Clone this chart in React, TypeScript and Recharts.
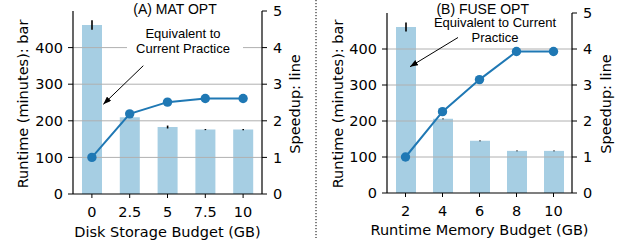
import {
  ComposedChart,
  Bar,
  Line,
  XAxis,
  YAxis,
  ErrorBar,
  ReferenceLine,
} from "recharts";

const diskBudgets = ["0", "2.5", "5", "7.5", "10"];
const matRuntime = [462, 210, 183, 176, 176];
const matRuntimeErr = [13, 1, 4, 1.5, 1.5];
const matSpeedup = [1, 2.19, 2.51, 2.61, 2.61];

const memBudgets = ["2", "4", "6", "8", "10"];
const fuseRuntime = [461, 206, 145, 117, 117];
const fuseRuntimeErr = [12.5, 1.2, 1, 0.8, 0.8];
const fuseSpeedup = [1, 2.26, 3.15, 3.93, 3.93];

const runtimeTicks = [0, 100, 200, 300, 400];
const speedupTicks = [0, 1, 2, 3, 4, 5];
const gridTicks = [1, 2, 3, 4];

const BAR = "#a6cee3";
const LINE = "#1f78b4";
const GRID = "#b0b0b0";
const FONT = "DejaVu Sans";
const FS = 14.5;

function VLabel({ bx, by, text }: { bx: number; by: number; text: string }) {
  return (
    <text
      transform={`translate(${bx},${by}) rotate(-90)`}
      textAnchor="middle"
      fontSize={FS}
      fontFamily={FONT}
      fill="#000"
    >
      {text}
    </text>
  );
}

function HLabel({ bx, by, text }: { bx: number; by: number; text: string }) {
  return (
    <text x={bx} y={by} textAnchor="middle" fontSize={FS} fontFamily={FONT} fill="#000">
      {text}
    </text>
  );
}

type PanelProps = {
  cats: string[];
  runtime: number[];
  err: number[];
  speedup: number[];
  width: number;
  top: number;
  yAxisW: number;
  rAxisW: number;
  xAxisH: number;
  xLabel: string;
  xLabelPos: [number, number];
  yLabelX: number;
  rLabelX: number;
  labelY: number;
};

function Panel(p: PanelProps) {
  const data = p.cats.map((c, i) => ({
    x: c,
    runtime: p.runtime[i],
    err: p.err[i],
    speedup: p.speedup[i],
  }));
  const tick = { fontSize: FS, fill: "#000", fontFamily: FONT };
  const axisLine = { stroke: "#000", strokeWidth: 1.2 };
  return (
    <ComposedChart
      width={p.width}
      height={243}
      data={data}
      margin={{ top: p.top, right: 5, bottom: 0, left: 0 }}
    >
      <XAxis
        dataKey="x"
        height={p.xAxisH}
        tick={tick}
        tickSize={4}
        tickMargin={9}
        axisLine={axisLine}
        tickLine={{ stroke: "#000" }}
        label={<HLabel bx={p.xLabelPos[0]} by={p.xLabelPos[1]} text={p.xLabel} />}
      />
      <XAxis
        xAxisId="top"
        dataKey="x"
        orientation="top"
        height={0}
        tick={false}
        tickLine={false}
        axisLine={axisLine}
      />
      <YAxis
        yAxisId="left"
        width={p.yAxisW}
        domain={[0, 500]}
        ticks={runtimeTicks}
        interval={0}
        tick={tick}
        tickSize={5}
        tickMargin={5}
        axisLine={axisLine}
        tickLine={{ stroke: "#000" }}
        label={<VLabel bx={p.yLabelX} by={p.labelY} text="Runtime (minutes): bar" />}
      />
      <YAxis
        yAxisId="right"
        orientation="right"
        width={p.rAxisW}
        domain={[0, 5]}
        ticks={speedupTicks}
        interval={0}
        tick={tick}
        tickSize={5}
        tickMargin={6}
        axisLine={axisLine}
        tickLine={{ stroke: "#000" }}
        label={<VLabel bx={p.rLabelX} by={p.labelY} text="Speedup: line" />}
      />
      <Bar yAxisId="left" dataKey="runtime" fill={BAR} barSize={20} isAnimationActive={false}>
        <ErrorBar dataKey="err" width={0} stroke="#000" strokeWidth={1.6} direction="y" />
      </Bar>
      {gridTicks.map((g) => (
        <ReferenceLine key={g} yAxisId="right" y={g} stroke={GRID} strokeWidth={1} />
      ))}
      <Line
        yAxisId="right"
        dataKey="speedup"
        stroke={LINE}
        strokeWidth={2}
        dot={{ r: 4.7, fill: LINE, stroke: LINE, strokeWidth: 0 }}
        isAnimationActive={false}
      />
    </ComposedChart>
  );
}

export default function App() {
  const ann = { fontFamily: "Liberation Sans", fontSize: 13, fill: "#000" } as const;
  return (
    <div
      style={{
        position: "absolute",
        left: 0,
        top: 0,
        width: 622,
        height: 243,
        background: "#fff",
        fontFamily: FONT,
      }}
    >
      <div style={{ position: "absolute", left: 0, top: 0 }}>
        <Panel
          cats={diskBudgets}
          runtime={matRuntime}
          err={matRuntimeErr}
          speedup={matSpeedup}
          width={316}
          top={11}
          yAxisW={73}
          rAxisW={49}
          xAxisH={49}
          xLabel="Disk Storage Budget (GB)"
          xLabelPos={[167.5, 237]}
          yLabelX={28}
          rLabelX={300}
          labelY={104}
        />
      </div>
      <div style={{ position: "absolute", left: 316, top: 0 }}>
        <Panel
          cats={memBudgets}
          runtime={fuseRuntime}
          err={fuseRuntimeErr}
          speedup={fuseSpeedup}
          width={306}
          top={13}
          yAxisW={71}
          rAxisW={45}
          xAxisH={50}
          xLabel="Runtime Memory Budget (GB)"
          xLabelPos={[163.5, 235]}
          yLabelX={27}
          rLabelX={295}
          labelY={104}
        />
      </div>
      <svg
        width={622}
        height={243}
        style={{ position: "absolute", left: 0, top: 0, pointerEvents: "none" }}
      >
        <defs>
          <marker
            id="ah"
            markerUnits="userSpaceOnUse"
            markerWidth={8}
            markerHeight={6}
            refX={8}
            refY={3}
            orient="auto"
          >
            <path d="M0,0 L8,3 L0,6 z" fill="#000" />
          </marker>
        </defs>
        <line x1={316} y1={0} x2={316} y2={238} stroke="#000" strokeWidth={1} strokeDasharray="1.2 1.8" />

        <rect x={120} y={0} width={110} height={20} fill="#fff" />
        <text x={175} y={14} textAnchor="middle" fontFamily="Liberation Sans" fontSize={14} fill="#000">
          (A) MAT OPT
        </text>
        <rect x={127} y={26} width={116} height={31} fill="#fff" />
        <text x={183} y={37.7} textAnchor="middle" {...ann}>Equivalent to</text>
        <text x={183} y={52.7} textAnchor="middle" {...ann}>Current Practice</text>
        <line x1={143.3} y1={65.7} x2={103.3} y2={104.3} stroke="#000" strokeWidth={1} markerEnd="url(#ah)" />

        <rect x={421} y={0} width={115} height={20} fill="#fff" />
        <text x={482.7} y={14} textAnchor="middle" fontFamily="Liberation Sans" fontSize={14} fill="#000">
          (B) FUSE OPT
        </text>
        <text x={495} y={27.3} textAnchor="middle" {...ann}>Equivalent to Current</text>
        <text x={495} y={42.3} textAnchor="middle" {...ann}>Practice</text>
        <line x1={458} y1={37.5} x2={410} y2={66.7} stroke="#000" strokeWidth={1} markerEnd="url(#ah)" />
      </svg>
    </div>
  );
}
